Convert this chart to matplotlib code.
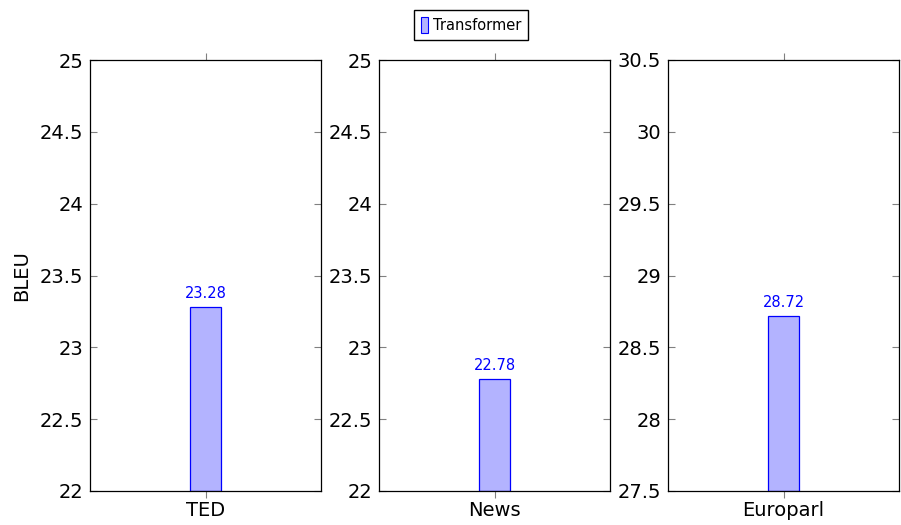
import matplotlib.pyplot as plt
from matplotlib.patches import Patch

# data
datasets = ['TED', 'News', 'Europarl']
bleu = [23.28, 22.78, 28.72]
ylims = [(22, 25), (22, 25), (27.5, 30.5)]
yticks = [[22, 22.5, 23, 23.5, 24, 24.5, 25],
          [22, 22.5, 23, 23.5, 24, 24.5, 25],
          [27.5, 28, 28.5, 29, 29.5, 30, 30.5]]

plt.rcParams['font.family'] = ['DejaVu Sans']

fill = '#b3b3ff'
edge = '#0000ff'

fig = plt.figure(figsize=(9.01, 5.25), dpi=100)
lefts = [90 / 901, 379 / 901, 668 / 901]
w = 231 / 901
b = 1 - 491 / 525
h = 431 / 525

for i, name in enumerate(datasets):
    ax = fig.add_axes([lefts[i], b, w, h])
    ax.bar([0], [bleu[i] - ylims[i][0]], bottom=ylims[i][0], width=0.134,
           color=fill, edgecolor=edge, linewidth=0.9)
    ax.text(0, bleu[i] + 0.04, f'{bleu[i]:.2f}', color=edge,
            ha='center', va='bottom', fontsize=10.5)
    ax.set_xlim(-0.5, 0.5)
    ax.set_ylim(*ylims[i])
    ax.set_yticks(yticks[i])
    ax.set_yticklabels([f'{t:g}' for t in yticks[i]], fontsize=14)
    ax.set_xticks([0])
    ax.set_xticklabels([name], fontsize=14)
    ax.tick_params(axis='y', direction='in', left=True, right=True,
                   length=5, color='#808080', width=0.8, pad=5)
    ax.tick_params(axis='x', direction='out', top=True, bottom=True,
                   length=5, color='#808080', width=0.8, pad=2)
    for s in ax.spines.values():
        s.set_linewidth(0.9)
    if i == 0:
        ax.set_ylabel('BLEU', fontsize=14, labelpad=6)

handles = [Patch(facecolor=fill, edgecolor=edge, linewidth=0.8, label='Transformer')]
fig.legend(handles=handles, loc='center', bbox_to_anchor=(471 / 901, 1 - 25 / 525),
           fontsize=10.5, frameon=True, fancybox=False, edgecolor='black',
           handlelength=0.5, handleheight=1.4, handletextpad=0.3,
           borderpad=0.45, framealpha=1)

fig.savefig('out.png', dpi=100)
